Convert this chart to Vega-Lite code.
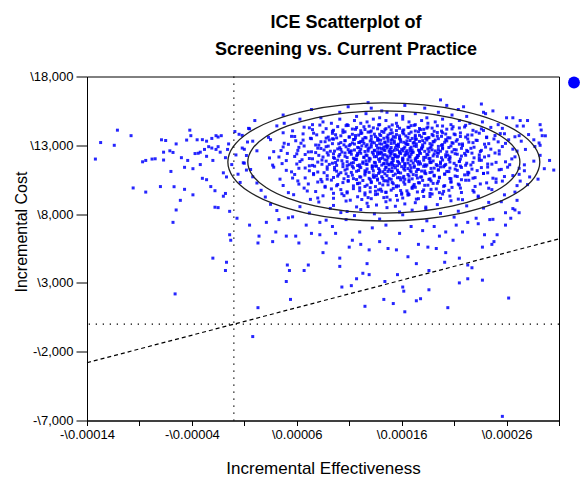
{
"$schema":"https://vega.github.io/schema/vega-lite/v6.json",
"width":472,"height":344,
"autosize":{"type":"none"},
"padding":{"left":87,"top":76.5,"right":23,"bottom":58.5},
"background":"white",
"title":{"text":["ICE Scatterplot of","Screening vs. Current Practice"],"anchor":"middle","fontSize":18,"fontWeight":"bold","font":"Liberation Sans","color":"#000","lineHeight":27,"dx":23,"offset":12},
"config":{"view":{"stroke":"#000","strokeWidth":1},"font":"Liberation Sans",
"axis":{"grid":false,"domainColor":"#000","labelFont":"Liberation Sans","labelFontSize":13,"labelColor":"#000","tickColor":"#000","titleFont":"Liberation Sans","titleFontWeight":"normal","titleColor":"#000","labelFlush":false,"labelOverlap":false}},
"data":{"values":[
{"e":0.000128,"c":16100},{"e":0.000197,"c":16300},{"e":0.000236,"c":16000},
{"e":0.000074,"c":15600},{"e":0.000109,"c":15800},{"e":0.000141,"c":15500},{"e":0.000163,"c":15900},{"e":0.000182,"c":15700},{"e":0.000214,"c":15600},{"e":0.000247,"c":15500},{"e":0.000131,"c":15700},
{"e":0.000047,"c":15200},{"e":0.000083,"c":15000},{"e":0.000101,"c":15400},{"e":0.000117,"c":15100},{"e":0.000126,"c":15300},{"e":0.000139,"c":15000},{"e":0.000146,"c":15400},{"e":0.000155,"c":15200},{"e":0.000161,"c":15100},{"e":0.000173,"c":15300},{"e":0.000184,"c":15000},{"e":0.000195,"c":15400},{"e":0.000208,"c":15200},{"e":0.000222,"c":15100},{"e":0.000240,"c":15300},{"e":0.000266,"c":15000},
{"e":0.000020,"c":14800},{"e":0.000048,"c":14600},{"e":0.000063,"c":14900},{"e":0.000075,"c":14500},{"e":0.000085,"c":14700},{"e":0.000093,"c":14600},{"e":0.000101,"c":14900},{"e":0.000108,"c":14500},{"e":0.000115,"c":14800},{"e":0.000121,"c":14600},{"e":0.000127,"c":14700},{"e":0.000133,"c":14900},{"e":0.000139,"c":14500},{"e":0.000145,"c":14800},{"e":0.000155,"c":14600},{"e":0.000161,"c":14900},{"e":0.000167,"c":14700},{"e":0.000173,"c":14500},{"e":0.000179,"c":14800},{"e":0.000185,"c":14600},{"e":0.000192,"c":14700},{"e":0.000199,"c":14900},{"e":0.000207,"c":14500},{"e":0.000215,"c":14800},{"e":0.000225,"c":14600},{"e":0.000237,"c":14700},{"e":0.000252,"c":14500},{"e":0.000280,"c":14800},
{"e":0.000014,"c":14230},{"e":0.000041,"c":14410},{"e":0.000056,"c":14050},{"e":0.000067,"c":14320},{"e":0.000075,"c":14140},{"e":0.000082,"c":14470},{"e":0.000088,"c":14210},{"e":0.000094,"c":14020},{"e":0.000099,"c":14360},{"e":0.000104,"c":14110},{"e":0.000109,"c":14440},{"e":0.000113,"c":14180},{"e":0.000117,"c":14290},{"e":0.000121,"c":14060},{"e":0.000125,"c":14150},{"e":0.000129,"c":14390},{"e":0.000133,"c":14270},{"e":0.000137,"c":14200},{"e":0.000141,"c":14010},{"e":0.000144,"c":14130},{"e":0.000148,"c":14340},{"e":0.000151,"c":14480},{"e":0.000155,"c":14070},{"e":0.000158,"c":14240},{"e":0.000162,"c":14120},{"e":0.000166,"c":14310},{"e":0.000169,"c":14430},{"e":0.000173,"c":14040},{"e":0.000177,"c":14220},{"e":0.000181,"c":14160},{"e":0.000185,"c":14330},{"e":0.000189,"c":14250},{"e":0.000194,"c":14420},{"e":0.000198,"c":14030},{"e":0.000203,"c":14170},{"e":0.000209,"c":14350},{"e":0.000215,"c":14260},{"e":0.000221,"c":14450},{"e":0.000228,"c":14090},{"e":0.000236,"c":14190},{"e":0.000245,"c":14300},{"e":0.000256,"c":14230},{"e":0.000270,"c":14400},{"e":0.000293,"c":14110},
{"e":0.000008,"c":13720},{"e":0.000033,"c":13580},{"e":0.000047,"c":13910},{"e":0.000058,"c":13640},{"e":0.000066,"c":13830},{"e":0.000073,"c":13510},{"e":0.000079,"c":13760},{"e":0.000085,"c":13950},{"e":0.000090,"c":13600},{"e":0.000094,"c":13870},{"e":0.000098,"c":13540},{"e":0.000102,"c":13690},{"e":0.000106,"c":13980},{"e":0.000110,"c":13620},{"e":0.000113,"c":13800},{"e":0.000116,"c":13530},{"e":0.000119,"c":13740},{"e":0.000122,"c":13890},{"e":0.000125,"c":13570},{"e":0.000128,"c":13960},{"e":0.000131,"c":13660},{"e":0.000134,"c":13810},{"e":0.000137,"c":13520},{"e":0.000140,"c":13710},{"e":0.000143,"c":13940},{"e":0.000146,"c":13590},{"e":0.000149,"c":13850},{"e":0.000152,"c":13630},{"e":0.000155,"c":13780},{"e":0.000158,"c":13550},{"e":0.000161,"c":13920},{"e":0.000164,"c":13680},{"e":0.000167,"c":13840},{"e":0.000170,"c":13500},{"e":0.000173,"c":13730},{"e":0.000176,"c":13990},{"e":0.000179,"c":13610},{"e":0.000182,"c":13860},{"e":0.000186,"c":13560},{"e":0.000190,"c":13700},{"e":0.000194,"c":13930},{"e":0.000198,"c":13650},{"e":0.000202,"c":13820},{"e":0.000206,"c":13540},{"e":0.000211,"c":13770},{"e":0.000216,"c":13900},{"e":0.000221,"c":13600},{"e":0.000227,"c":13750},{"e":0.000234,"c":13880},{"e":0.000241,"c":13560},{"e":0.000249,"c":13710},{"e":0.000258,"c":13840},{"e":0.000268,"c":13620},{"e":0.000281,"c":13780},{"e":0.000297,"c":13690},
{"e":0.000013,"c":13240},{"e":0.000035,"c":13410},{"e":0.000052,"c":13070},{"e":0.000059,"c":13330},{"e":0.000064,"c":13150},{"e":0.000074,"c":13480},{"e":0.000081,"c":13010},{"e":0.000083,"c":13260},{"e":0.000091,"c":13390},{"e":0.000094,"c":13120},{"e":0.000095,"c":13450},{"e":0.000102,"c":13200},{"e":0.000105,"c":13030},{"e":0.000106,"c":13350},{"e":0.000113,"c":13170},{"e":0.000114,"c":13420},{"e":0.000115,"c":13090},{"e":0.000121,"c":13280},{"e":0.000123,"c":13460},{"e":0.000124,"c":13140},{"e":0.000130,"c":13310},{"e":0.000131,"c":13050},{"e":0.000132,"c":13230},{"e":0.000138,"c":13400},{"e":0.000139,"c":13110},{"e":0.000140,"c":13370},{"e":0.000144,"c":13190},{"e":0.000146,"c":13020},{"e":0.000147,"c":13290},{"e":0.000151,"c":13440},{"e":0.000153,"c":13160},{"e":0.000150,"c":13360},{"e":0.000157,"c":13080},{"e":0.000159,"c":13250},{"e":0.000158,"c":13470},{"e":0.000164,"c":13130},{"e":0.000165,"c":13320},{"e":0.000166,"c":13060},{"e":0.000172,"c":13210},{"e":0.000173,"c":13430},{"e":0.000174,"c":13100},{"e":0.000180,"c":13340},{"e":0.000182,"c":13180},{"e":0.000183,"c":13490},{"e":0.000189,"c":13040},{"e":0.000190,"c":13270},{"e":0.000192,"c":13380},{"e":0.000198,"c":13000},{"e":0.000201,"c":13220},{"e":0.000202,"c":13410},{"e":0.000209,"c":13150},{"e":0.000212,"c":13300},{"e":0.000215,"c":13080},{"e":0.000223,"c":13460},{"e":0.000228,"c":13190},{"e":0.000232,"c":13350},{"e":0.000243,"c":13120},{"e":0.000252,"c":13250},{"e":0.000262,"c":13400},{"e":0.000291,"c":13170},
{"e":0.000010,"c":12710},{"e":0.000038,"c":12540},{"e":0.000047,"c":12880},{"e":0.000061,"c":12630},{"e":0.000067,"c":12950},{"e":0.000071,"c":12520},{"e":0.000080,"c":12790},{"e":0.000086,"c":12660},{"e":0.000088,"c":12900},{"e":0.000092,"c":12570},{"e":0.000099,"c":12740},{"e":0.000101,"c":12830},{"e":0.000103,"c":12510},{"e":0.000109,"c":12690},{"e":0.000110,"c":12970},{"e":0.000112,"c":12600},{"e":0.000118,"c":12850},{"e":0.000120,"c":12550},{"e":0.000121,"c":12720},{"e":0.000126,"c":12930},{"e":0.000128,"c":12580},{"e":0.000129,"c":12810},{"e":0.000134,"c":12640},{"e":0.000136,"c":12990},{"e":0.000137,"c":12530},{"e":0.000141,"c":12760},{"e":0.000143,"c":12870},{"e":0.000144,"c":12620},{"e":0.000149,"c":12700},{"e":0.000147,"c":12940},{"e":0.000151,"c":12560},{"e":0.000154,"c":12820},{"e":0.000156,"c":12680},{"e":0.000157,"c":12910},{"e":0.000161,"c":12590},{"e":0.000162,"c":12770},{"e":0.000164,"c":12500},{"e":0.000169,"c":12860},{"e":0.000170,"c":12650},{"e":0.000172,"c":12960},{"e":0.000177,"c":12610},{"e":0.000179,"c":12730},{"e":0.000180,"c":12890},{"e":0.000186,"c":12540},{"e":0.000187,"c":12800},{"e":0.000189,"c":12670},{"e":0.000195,"c":12920},{"e":0.000197,"c":12570},{"e":0.000199,"c":12750},{"e":0.000205,"c":12840},{"e":0.000208,"c":12520},{"e":0.000210,"c":12690},{"e":0.000218,"c":12980},{"e":0.000222,"c":12630},{"e":0.000226,"c":12780},{"e":0.000235,"c":12550},{"e":0.000240,"c":12870},{"e":0.000253,"c":12600},{"e":0.000266,"c":12720},{"e":0.000287,"c":12910},{"e":0.000146,"c":12810},{"e":0.000168,"c":12580},
{"e":0.000012,"c":12260},{"e":0.000034,"c":12080},{"e":0.000051,"c":12410},{"e":0.000058,"c":12190},{"e":0.000068,"c":12330},{"e":0.000075,"c":12020},{"e":0.000078,"c":12470},{"e":0.000085,"c":12150},{"e":0.000090,"c":12290},{"e":0.000095,"c":12380},{"e":0.000096,"c":12050},{"e":0.000100,"c":12210},{"e":0.000106,"c":12440},{"e":0.000108,"c":12110},{"e":0.000112,"c":12350},{"e":0.000115,"c":12000},{"e":0.000117,"c":12240},{"e":0.000118,"c":12420},{"e":0.000124,"c":12130},{"e":0.000126,"c":12300},{"e":0.000129,"c":12060},{"e":0.000132,"c":12490},{"e":0.000134,"c":12170},{"e":0.000137,"c":12360},{"e":0.000140,"c":12040},{"e":0.000142,"c":12280},{"e":0.000141,"c":12450},{"e":0.000147,"c":12100},{"e":0.000149,"c":12230},{"e":0.000150,"c":12390},{"e":0.000152,"c":12070},{"e":0.000153,"c":12320},{"e":0.000154,"c":12180},{"e":0.000158,"c":12460},{"e":0.000161,"c":12010},{"e":0.000163,"c":12270},{"e":0.000166,"c":12400},{"e":0.000168,"c":12140},{"e":0.000169,"c":12340},{"e":0.000174,"c":12090},{"e":0.000176,"c":12250},{"e":0.000177,"c":12480},{"e":0.000183,"c":12120},{"e":0.000185,"c":12310},{"e":0.000186,"c":12030},{"e":0.000191,"c":12370},{"e":0.000194,"c":12200},{"e":0.000195,"c":12430},{"e":0.000202,"c":12160},{"e":0.000204,"c":12280},{"e":0.000206,"c":12050},{"e":0.000213,"c":12350},{"e":0.000217,"c":12220},{"e":0.000220,"c":12410},{"e":0.000229,"c":12090},{"e":0.000234,"c":12300},{"e":0.000239,"c":12150},{"e":0.000249,"c":12440},{"e":0.000265,"c":12010},{"e":0.000292,"c":12270},{"e":0.000139,"c":12380},{"e":0.000175,"c":12120},
{"e":0.000009,"c":11730},{"e":0.000037,"c":11560},{"e":0.000050,"c":11890},{"e":0.000060,"c":11640},{"e":0.000065,"c":11950},{"e":0.000072,"c":11510},{"e":0.000080,"c":11780},{"e":0.000084,"c":11620},{"e":0.000088,"c":11850},{"e":0.000094,"c":11700},{"e":0.000098,"c":11540},{"e":0.000099,"c":11920},{"e":0.000104,"c":11660},{"e":0.000108,"c":11810},{"e":0.000110,"c":11590},{"e":0.000114,"c":11740},{"e":0.000117,"c":11980},{"e":0.000118,"c":11530},{"e":0.000123,"c":11690},{"e":0.000126,"c":11870},{"e":0.000127,"c":11610},{"e":0.000134,"c":11760},{"e":0.000135,"c":11500},{"e":0.000139,"c":11830},{"e":0.000143,"c":11650},{"e":0.000144,"c":11940},{"e":0.000148,"c":11570},{"e":0.000150,"c":11720},{"e":0.000152,"c":11880},{"e":0.000151,"c":11600},{"e":0.000157,"c":11770},{"e":0.000156,"c":11520},{"e":0.000161,"c":11840},{"e":0.000163,"c":11680},{"e":0.000166,"c":11960},{"e":0.000168,"c":11550},{"e":0.000171,"c":11710},{"e":0.000173,"c":11900},{"e":0.000176,"c":11630},{"e":0.000177,"c":11800},{"e":0.000182,"c":11580},{"e":0.000188,"c":11750},{"e":0.000187,"c":11860},{"e":0.000194,"c":11520},{"e":0.000197,"c":11670},{"e":0.000199,"c":11930},{"e":0.000202,"c":11610},{"e":0.000206,"c":11790},{"e":0.000212,"c":11540},{"e":0.000215,"c":11820},{"e":0.000222,"c":11700},{"e":0.000226,"c":11570},{"e":0.000234,"c":11910},{"e":0.000242,"c":11640},{"e":0.000250,"c":11760},{"e":0.000263,"c":11590},{"e":0.000286,"c":11850},{"e":0.000146,"c":11680},
{"e":0.000016,"c":11240},{"e":0.000038,"c":11410},{"e":0.000055,"c":11070},{"e":0.000062,"c":11330},{"e":0.000072,"c":11150},{"e":0.000077,"c":11480},{"e":0.000086,"c":11010},{"e":0.000089,"c":11260},{"e":0.000096,"c":11390},{"e":0.000098,"c":11120},{"e":0.000104,"c":11450},{"e":0.000106,"c":11200},{"e":0.000112,"c":11030},{"e":0.000114,"c":11350},{"e":0.000119,"c":11170},{"e":0.000120,"c":11420},{"e":0.000126,"c":11090},{"e":0.000127,"c":11280},{"e":0.000132,"c":11460},{"e":0.000133,"c":11140},{"e":0.000138,"c":11310},{"e":0.000139,"c":11050},{"e":0.000144,"c":11230},{"e":0.000145,"c":11400},{"e":0.000150,"c":11110},{"e":0.000151,"c":11370},{"e":0.000156,"c":11190},{"e":0.000157,"c":11020},{"e":0.000162,"c":11290},{"e":0.000163,"c":11440},{"e":0.000168,"c":11160},{"e":0.000169,"c":11360},{"e":0.000174,"c":11080},{"e":0.000175,"c":11250},{"e":0.000181,"c":11470},{"e":0.000182,"c":11130},{"e":0.000188,"c":11320},{"e":0.000189,"c":11060},{"e":0.000195,"c":11210},{"e":0.000197,"c":11430},{"e":0.000203,"c":11100},{"e":0.000206,"c":11340},{"e":0.000213,"c":11180},{"e":0.000216,"c":11490},{"e":0.000223,"c":11040},{"e":0.000227,"c":11270},{"e":0.000236,"c":11380},{"e":0.000242,"c":11000},{"e":0.000253,"c":11220},{"e":0.000261,"c":11410},{"e":0.000277,"c":11150},{"e":0.000296,"c":11300},
{"e":0.000018,"c":10710},{"e":0.000044,"c":10540},{"e":0.000058,"c":10880},{"e":0.000068,"c":10630},{"e":0.000076,"c":10950},{"e":0.000083,"c":10520},{"e":0.000089,"c":10790},{"e":0.000095,"c":10660},{"e":0.000100,"c":10900},{"e":0.000105,"c":10570},{"e":0.000109,"c":10740},{"e":0.000113,"c":10830},{"e":0.000117,"c":10510},{"e":0.000121,"c":10690},{"e":0.000125,"c":10970},{"e":0.000129,"c":10600},{"e":0.000133,"c":10850},{"e":0.000137,"c":10550},{"e":0.000141,"c":10720},{"e":0.000144,"c":10930},{"e":0.000148,"c":10580},{"e":0.000152,"c":10810},{"e":0.000156,"c":10640},{"e":0.000159,"c":10990},{"e":0.000163,"c":10530},{"e":0.000167,"c":10760},{"e":0.000171,"c":10870},{"e":0.000175,"c":10620},{"e":0.000179,"c":10700},{"e":0.000183,"c":10940},{"e":0.000187,"c":10560},{"e":0.000191,"c":10820},{"e":0.000196,"c":10680},{"e":0.000201,"c":10910},{"e":0.000206,"c":10590},{"e":0.000211,"c":10770},{"e":0.000217,"c":10500},{"e":0.000223,"c":10860},{"e":0.000230,"c":10650},{"e":0.000238,"c":10960},{"e":0.000247,"c":10610},{"e":0.000258,"c":10730},{"e":0.000272,"c":10890},{"e":0.000290,"c":10540},{"e":0.000136,"c":10800},
{"e":0.000022,"c":10260},{"e":0.000047,"c":10080},{"e":0.000061,"c":10410},{"e":0.000071,"c":10190},{"e":0.000080,"c":10330},{"e":0.000087,"c":10020},{"e":0.000093,"c":10470},{"e":0.000099,"c":10150},{"e":0.000104,"c":10290},{"e":0.000109,"c":10380},{"e":0.000114,"c":10050},{"e":0.000118,"c":10210},{"e":0.000123,"c":10440},{"e":0.000127,"c":10110},{"e":0.000131,"c":10350},{"e":0.000135,"c":10000},{"e":0.000139,"c":10240},{"e":0.000143,"c":10420},{"e":0.000147,"c":10130},{"e":0.000151,"c":10300},{"e":0.000155,"c":10060},{"e":0.000159,"c":10490},{"e":0.000163,"c":10170},{"e":0.000167,"c":10360},{"e":0.000171,"c":10040},{"e":0.000176,"c":10280},{"e":0.000180,"c":10450},{"e":0.000185,"c":10100},{"e":0.000190,"c":10230},{"e":0.000195,"c":10390},{"e":0.000201,"c":10070},{"e":0.000207,"c":10320},{"e":0.000214,"c":10180},{"e":0.000221,"c":10460},{"e":0.000230,"c":10010},{"e":0.000241,"c":10270},{"e":0.000256,"c":10400},{"e":0.000280,"c":10140},
{"e":0.000026,"c":9730},{"e":0.000052,"c":9560},{"e":0.000067,"c":9890},{"e":0.000078,"c":9640},{"e":0.000087,"c":9950},{"e":0.000095,"c":9510},{"e":0.000102,"c":9780},{"e":0.000108,"c":9620},{"e":0.000114,"c":9850},{"e":0.000120,"c":9700},{"e":0.000125,"c":9540},{"e":0.000130,"c":9920},{"e":0.000135,"c":9660},{"e":0.000140,"c":9810},{"e":0.000145,"c":9590},{"e":0.000150,"c":9740},{"e":0.000155,"c":9980},{"e":0.000160,"c":9530},{"e":0.000165,"c":9690},{"e":0.000170,"c":9870},{"e":0.000175,"c":9610},{"e":0.000181,"c":9760},{"e":0.000187,"c":9500},{"e":0.000193,"c":9830},{"e":0.000200,"c":9650},{"e":0.000208,"c":9940},{"e":0.000217,"c":9570},{"e":0.000228,"c":9720},{"e":0.000243,"c":9880},{"e":0.000268,"c":9600},
{"e":0.000030,"c":9240},{"e":0.000057,"c":9410},{"e":0.000073,"c":9070},{"e":0.000085,"c":9330},{"e":0.000095,"c":9150},{"e":0.000103,"c":9480},{"e":0.000111,"c":9010},{"e":0.000118,"c":9260},{"e":0.000125,"c":9390},{"e":0.000131,"c":9120},{"e":0.000137,"c":9450},{"e":0.000143,"c":9200},{"e":0.000149,"c":9030},{"e":0.000155,"c":9350},{"e":0.000161,"c":9170},{"e":0.000167,"c":9420},{"e":0.000174,"c":9090},{"e":0.000181,"c":9280},{"e":0.000189,"c":9460},{"e":0.000197,"c":9140},{"e":0.000206,"c":9310},{"e":0.000218,"c":9050},{"e":0.000233,"c":9230},{"e":0.000258,"c":9400},
{"e":0.000035,"c":8710},{"e":0.000063,"c":8540},{"e":0.000081,"c":8880},{"e":0.000095,"c":8630},{"e":0.000107,"c":8950},{"e":0.000117,"c":8520},{"e":0.000127,"c":8790},{"e":0.000136,"c":8660},{"e":0.000145,"c":8900},{"e":0.000154,"c":8570},{"e":0.000163,"c":8740},{"e":0.000173,"c":8830},{"e":0.000183,"c":8510},{"e":0.000194,"c":8690},{"e":0.000207,"c":8970},{"e":0.000222,"c":8600},{"e":0.000243,"c":8850},{"e":0.000128,"c":8550},
{"e":0.000041,"c":8260},{"e":0.000072,"c":8080},{"e":0.000092,"c":8410},{"e":0.000108,"c":8190},{"e":0.000121,"c":8330},{"e":0.000134,"c":8020},{"e":0.000146,"c":8470},{"e":0.000158,"c":8150},{"e":0.000170,"c":8290},{"e":0.000183,"c":8380},{"e":0.000197,"c":8050},{"e":0.000214,"c":8210},{"e":0.000238,"c":8440},{"e":0.000102,"c":8110},
{"e":0.000052,"c":7730},{"e":0.000088,"c":7560},{"e":0.000115,"c":7890},{"e":0.000139,"c":7640},{"e":0.000161,"c":7950},{"e":0.000184,"c":7510},{"e":0.000210,"c":7780},{"e":0.000247,"c":7620},
{"e":0.000072,"c":14270},{"e":0.000095,"c":14090},{"e":0.000107,"c":14430},{"e":0.000116,"c":14160},{"e":0.000124,"c":14350},{"e":0.000131,"c":14040},{"e":0.000138,"c":14480},{"e":0.000145,"c":14210},{"e":0.000150,"c":14120},{"e":0.000156,"c":14380},{"e":0.000161,"c":14060},{"e":0.000167,"c":14300},{"e":0.000172,"c":14450},{"e":0.000178,"c":14140},{"e":0.000184,"c":14250},{"e":0.000191,"c":14020},{"e":0.000199,"c":14400},{"e":0.000208,"c":14190},{"e":0.000220,"c":14330},{"e":0.000238,"c":14080},
{"e":0.000055,"c":13650},{"e":0.000076,"c":13880},{"e":0.000088,"c":13520},{"e":0.000097,"c":13770},{"e":0.000104,"c":13940},{"e":0.000110,"c":13590},{"e":0.000116,"c":13710},{"e":0.000121,"c":13860},{"e":0.000126,"c":13540},{"e":0.000130,"c":13970},{"e":0.000135,"c":13630},{"e":0.000139,"c":13800},{"e":0.000143,"c":13510},{"e":0.000147,"c":13740},{"e":0.000151,"c":13900},{"e":0.000154,"c":13580},{"e":0.000158,"c":13690},{"e":0.000162,"c":13830},{"e":0.000166,"c":13560},{"e":0.000169,"c":13960},{"e":0.000173,"c":13610},{"e":0.000177,"c":13720},{"e":0.000181,"c":13870},{"e":0.000185,"c":13530},{"e":0.000189,"c":13790},{"e":0.000194,"c":13670},{"e":0.000199,"c":13910},{"e":0.000204,"c":13550},{"e":0.000210,"c":13820},{"e":0.000216,"c":13640},{"e":0.000223,"c":13750},{"e":0.000231,"c":13980},{"e":0.000241,"c":13600},{"e":0.000254,"c":13850},{"e":0.000272,"c":13700},
{"e":0.000048,"c":13150},{"e":0.000066,"c":13380},{"e":0.000078,"c":13020},{"e":0.000087,"c":13260},{"e":0.000094,"c":13470},{"e":0.000100,"c":13110},{"e":0.000106,"c":13330},{"e":0.000111,"c":13060},{"e":0.000115,"c":13420},{"e":0.000119,"c":13200},{"e":0.000123,"c":13290},{"e":0.000127,"c":13040},{"e":0.000131,"c":13450},{"e":0.000134,"c":13180},{"e":0.000137,"c":13360},{"e":0.000141,"c":13090},{"e":0.000144,"c":13240},{"e":0.000147,"c":13490},{"e":0.000150,"c":13130},{"e":0.000153,"c":13310},{"e":0.000156,"c":13010},{"e":0.000159,"c":13400},{"e":0.000162,"c":13220},{"e":0.000165,"c":13070},{"e":0.000168,"c":13350},{"e":0.000171,"c":13170},{"e":0.000174,"c":13440},{"e":0.000177,"c":13280},{"e":0.000180,"c":13030},{"e":0.000184,"c":13390},{"e":0.000187,"c":13120},{"e":0.000191,"c":13260},{"e":0.000195,"c":13480},{"e":0.000199,"c":13050},{"e":0.000203,"c":13320},{"e":0.000208,"c":13190},{"e":0.000213,"c":13410},{"e":0.000218,"c":13100},{"e":0.000224,"c":13230},{"e":0.000231,"c":13370},{"e":0.000239,"c":13080},{"e":0.000248,"c":13460},{"e":0.000259,"c":13140},{"e":0.000274,"c":13300},{"e":0.000120,"c":13210},
{"e":0.000045,"c":12620},{"e":0.000062,"c":12850},{"e":0.000074,"c":12530},{"e":0.000083,"c":12770},{"e":0.000090,"c":12940},{"e":0.000096,"c":12580},{"e":0.000102,"c":12700},{"e":0.000107,"c":12890},{"e":0.000111,"c":12510},{"e":0.000115,"c":12660},{"e":0.000119,"c":12820},{"e":0.000122,"c":12960},{"e":0.000125,"c":12550},{"e":0.000128,"c":12730},{"e":0.000131,"c":12880},{"e":0.000134,"c":12600},{"e":0.000137,"c":12790},{"e":0.000140,"c":12520},{"e":0.000143,"c":12680},{"e":0.000145,"c":12930},{"e":0.000148,"c":12570},{"e":0.000150,"c":12840},{"e":0.000153,"c":12640},{"e":0.000155,"c":12990},{"e":0.000158,"c":12540},{"e":0.000160,"c":12710},{"e":0.000163,"c":12870},{"e":0.000165,"c":12610},{"e":0.000168,"c":12760},{"e":0.000171,"c":12500},{"e":0.000174,"c":12920},{"e":0.000176,"c":12650},{"e":0.000179,"c":12810},{"e":0.000182,"c":12560},{"e":0.000185,"c":12740},{"e":0.000188,"c":12900},{"e":0.000192,"c":12590},{"e":0.000195,"c":12690},{"e":0.000199,"c":12830},{"e":0.000203,"c":12520},{"e":0.000207,"c":12950},{"e":0.000212,"c":12670},{"e":0.000217,"c":12780},{"e":0.000223,"c":12550},{"e":0.000229,"c":12860},{"e":0.000236,"c":12630},{"e":0.000245,"c":12720},{"e":0.000256,"c":12910},{"e":0.000270,"c":12580},{"e":0.000139,"c":12800},
{"e":0.000043,"c":12150},{"e":0.000060,"c":12380},{"e":0.000072,"c":12040},{"e":0.000081,"c":12270},{"e":0.000089,"c":12460},{"e":0.000095,"c":12110},{"e":0.000101,"c":12330},{"e":0.000106,"c":12200},{"e":0.000110,"c":12490},{"e":0.000114,"c":12060},{"e":0.000118,"c":12300},{"e":0.000121,"c":12420},{"e":0.000124,"c":12130},{"e":0.000127,"c":12250},{"e":0.000130,"c":12010},{"e":0.000133,"c":12360},{"e":0.000136,"c":12180},{"e":0.000139,"c":12440},{"e":0.000142,"c":12080},{"e":0.000144,"c":12320},{"e":0.000146,"c":12220},{"e":0.000149,"c":12470},{"e":0.000151,"c":12030},{"e":0.000154,"c":12290},{"e":0.000156,"c":12140},{"e":0.000159,"c":12400},{"e":0.000161,"c":12070},{"e":0.000164,"c":12350},{"e":0.000167,"c":12190},{"e":0.000170,"c":12480},{"e":0.000173,"c":12020},{"e":0.000175,"c":12260},{"e":0.000178,"c":12410},{"e":0.000181,"c":12120},{"e":0.000184,"c":12340},{"e":0.000187,"c":12050},{"e":0.000190,"c":12230},{"e":0.000194,"c":12450},{"e":0.000198,"c":12100},{"e":0.000202,"c":12310},{"e":0.000206,"c":12170},{"e":0.000211,"c":12390},{"e":0.000216,"c":12000},{"e":0.000221,"c":12280},{"e":0.000227,"c":12430},{"e":0.000234,"c":12090},{"e":0.000243,"c":12240},{"e":0.000253,"c":12370},{"e":0.000268,"c":12160},{"e":0.000157,"c":12210},
{"e":0.000046,"c":11670},{"e":0.000063,"c":11820},{"e":0.000075,"c":11540},{"e":0.000084,"c":11930},{"e":0.000091,"c":11610},{"e":0.000097,"c":11750},{"e":0.000103,"c":11880},{"e":0.000108,"c":11520},{"e":0.000112,"c":11700},{"e":0.000116,"c":11960},{"e":0.000120,"c":11580},{"e":0.000123,"c":11790},{"e":0.000126,"c":11640},{"e":0.000129,"c":11850},{"e":0.000132,"c":11510},{"e":0.000135,"c":11730},{"e":0.000138,"c":11990},{"e":0.000141,"c":11560},{"e":0.000143,"c":11680},{"e":0.000146,"c":11900},{"e":0.000148,"c":11620},{"e":0.000151,"c":11770},{"e":0.000153,"c":11530},{"e":0.000156,"c":11840},{"e":0.000158,"c":11660},{"e":0.000161,"c":11950},{"e":0.000163,"c":11590},{"e":0.000166,"c":11710},{"e":0.000169,"c":11870},{"e":0.000172,"c":11500},{"e":0.000175,"c":11810},{"e":0.000178,"c":11650},{"e":0.000181,"c":11920},{"e":0.000184,"c":11570},{"e":0.000187,"c":11740},{"e":0.000190,"c":11860},{"e":0.000193,"c":11600},{"e":0.000197,"c":11780},{"e":0.000201,"c":11530},{"e":0.000205,"c":11970},{"e":0.000210,"c":11690},{"e":0.000215,"c":11830},{"e":0.000221,"c":11550},{"e":0.000228,"c":11760},{"e":0.000236,"c":11910},{"e":0.000246,"c":11630},{"e":0.000259,"c":11800},{"e":0.000277,"c":11580},
{"e":0.000050,"c":11180},{"e":0.000068,"c":11350},{"e":0.000080,"c":11060},{"e":0.000089,"c":11430},{"e":0.000096,"c":11220},{"e":0.000102,"c":11010},{"e":0.000108,"c":11290},{"e":0.000113,"c":11470},{"e":0.000117,"c":11110},{"e":0.000121,"c":11380},{"e":0.000125,"c":11150},{"e":0.000129,"c":11030},{"e":0.000132,"c":11320},{"e":0.000136,"c":11490},{"e":0.000139,"c":11200},{"e":0.000142,"c":11080},{"e":0.000145,"c":11410},{"e":0.000148,"c":11260},{"e":0.000151,"c":11120},{"e":0.000154,"c":11360},{"e":0.000157,"c":11040},{"e":0.000160,"c":11450},{"e":0.000163,"c":11190},{"e":0.000166,"c":11310},{"e":0.000169,"c":11070},{"e":0.000172,"c":11400},{"e":0.000176,"c":11240},{"e":0.000179,"c":11130},{"e":0.000183,"c":11480},{"e":0.000187,"c":11020},{"e":0.000191,"c":11340},{"e":0.000195,"c":11210},{"e":0.000200,"c":11440},{"e":0.000205,"c":11090},{"e":0.000211,"c":11270},{"e":0.000217,"c":11390},{"e":0.000224,"c":11000},{"e":0.000232,"c":11160},{"e":0.000242,"c":11420},{"e":0.000255,"c":11250},{"e":0.000272,"c":11330},{"e":0.000147,"c":11100},
{"e":0.000056,"c":10620},{"e":0.000076,"c":10870},{"e":0.000089,"c":10540},{"e":0.000099,"c":10760},{"e":0.000107,"c":10930},{"e":0.000114,"c":10580},{"e":0.000120,"c":10710},{"e":0.000125,"c":10840},{"e":0.000130,"c":10510},{"e":0.000134,"c":10680},{"e":0.000138,"c":10960},{"e":0.000142,"c":10600},{"e":0.000146,"c":10790},{"e":0.000150,"c":10530},{"e":0.000154,"c":10910},{"e":0.000158,"c":10650},{"e":0.000162,"c":10740},{"e":0.000166,"c":10880},{"e":0.000170,"c":10560},{"e":0.000174,"c":10820},{"e":0.000178,"c":10690},{"e":0.000182,"c":10990},{"e":0.000186,"c":10520},{"e":0.000191,"c":10770},{"e":0.000196,"c":10640},{"e":0.000201,"c":10900},{"e":0.000207,"c":10570},{"e":0.000213,"c":10730},{"e":0.000220,"c":10850},{"e":0.000228,"c":10610},{"e":0.000238,"c":10950},{"e":0.000250,"c":10550},{"e":0.000266,"c":10800},{"e":0.000133,"c":10700},{"e":0.000161,"c":10630},
{"e":0.000062,"c":10180},{"e":0.000084,"c":10350},{"e":0.000098,"c":10060},{"e":0.000109,"c":10440},{"e":0.000118,"c":10230},{"e":0.000125,"c":10010},{"e":0.000131,"c":10290},{"e":0.000137,"c":10470},{"e":0.000142,"c":10120},{"e":0.000147,"c":10380},{"e":0.000152,"c":10200},{"e":0.000157,"c":10040},{"e":0.000162,"c":10330},{"e":0.000167,"c":10490},{"e":0.000172,"c":10150},{"e":0.000177,"c":10270},{"e":0.000182,"c":10090},{"e":0.000188,"c":10410},{"e":0.000194,"c":10240},{"e":0.000200,"c":10020},{"e":0.000207,"c":10360},{"e":0.000215,"c":10110},{"e":0.000224,"c":10460},{"e":0.000235,"c":10190},{"e":0.000250,"c":10310},{"e":0.000270,"c":10070},{"e":0.000145,"c":10420},{"e":0.000120,"c":10250},
{"e":0.000070,"c":9680},{"e":0.000093,"c":9830},{"e":0.000108,"c":9540},{"e":0.000120,"c":9910},{"e":0.000130,"c":9620},{"e":0.000138,"c":9760},{"e":0.000145,"c":9580},{"e":0.000152,"c":9870},{"e":0.000159,"c":9710},{"e":0.000166,"c":9520},{"e":0.000173,"c":9950},{"e":0.000180,"c":9640},{"e":0.000188,"c":9800},{"e":0.000196,"c":9560},{"e":0.000205,"c":9730},{"e":0.000216,"c":9890},{"e":0.000229,"c":9600},{"e":0.000246,"c":9780},{"e":0.000141,"c":9660},{"e":0.000170,"c":9940},
{"e":0.000080,"c":9170},{"e":0.000105,"c":9340},{"e":0.000122,"c":9060},{"e":0.000135,"c":9420},{"e":0.000146,"c":9230},{"e":0.000156,"c":9010},{"e":0.000166,"c":9380},{"e":0.000176,"c":9120},{"e":0.000187,"c":9280},{"e":0.000199,"c":9460},{"e":0.000214,"c":9090},{"e":0.000233,"c":9310},{"e":0.000128,"c":9200},{"e":0.000160,"c":9440},
{"e":-0.000111,"c":14100},{"e":-0.000098,"c":13700},{"e":-0.000127,"c":13200},{"e":-0.000114,"c":13000},{"e":-0.000132,"c":12000},{"e":-0.000069,"c":13400},{"e":-0.000065,"c":13350},{"e":-0.000055,"c":13100},{"e":-0.000061,"c":12600},{"e":-0.000067,"c":12500},{"e":-0.000058,"c":12480},{"e":-0.000087,"c":11800},{"e":-0.000084,"c":11900},{"e":-0.000078,"c":12000},{"e":-0.000075,"c":12020},{"e":-0.000067,"c":11930},{"e":-0.000096,"c":9900},{"e":-0.000084,"c":9600},{"e":-0.000070,"c":10000},{"e":-0.000057,"c":9990},{"e":-0.000051,"c":9000},{"e":-0.000055,"c":8300},{"e":-0.000058,"c":7400},{"e":-0.000047,"c":9800},{"e":-0.000039,"c":9400},{"e":-0.000060,"c":11100},{"e":-0.000047,"c":11400},{"e":-0.000050,"c":12100},{"e":-0.000044,"c":11900},{"e":-0.000042,"c":14100},{"e":-0.000041,"c":13700},{"e":-0.000035,"c":13400},{"e":-0.000045,"c":13380},{"e":-0.000037,"c":12400},{"e":-0.000034,"c":12420},{"e":-0.000039,"c":11300},{"e":-0.000030,"c":13410},{"e":-0.000026,"c":13300},{"e":-0.000021,"c":13500},{"e":-0.000017,"c":13700},{"e":-0.000015,"c":13600},{"e":-0.000012,"c":13700},{"e":-0.000032,"c":11600},{"e":-0.000030,"c":10600},{"e":-0.000026,"c":10500},{"e":-0.000022,"c":10000},{"e":-0.000018,"c":9700},{"e":-0.000010,"c":9300},{"e":-0.000008,"c":9500},{"e":-0.000018,"c":8500},{"e":-0.000015,"c":8470},{"e":-0.000004,"c":8200},{"e":0.000003,"c":7700},{"e":-0.000004,"c":6500},{"e":-0.000003,"c":6100},{"e":-0.000020,"c":4800},{"e":-0.000007,"c":4500},{"e":-0.000008,"c":3900},{"e":-0.000056,"c":2200},{"e":-0.000032,"c":12500},{"e":-0.000026,"c":12200},{"e":-0.000021,"c":12800},{"e":-0.000017,"c":12700},{"e":-0.000013,"c":12500},{"e":-0.000015,"c":12900},{"e":-0.000024,"c":12900},{"e":-0.000028,"c":12700},{"e":-0.000020,"c":11900},{"e":-0.000010,"c":11000},{"e":-0.000007,"c":10700},
{"e":-0.000005,"c":13100},{"e":0.000002,"c":12300},{"e":0.000005,"c":13800},{"e":-0.000002,"c":11600},{"e":0.000008,"c":12800},{"e":0.000012,"c":11200},{"e":0.000015,"c":14200},{"e":0.000004,"c":10900},{"e":0.000018,"c":13300},{"e":-0.000008,"c":12100},{"e":0.000010,"c":11700},{"e":0.000022,"c":12600},{"e":0.000001,"c":14000},{"e":0.000006,"c":10300},{"e":-0.000006,"c":12700},
{"e":0.000018,"c":-900},{"e":0.000256,"c":-6700},{"e":0.000023,"c":1200},{"e":0.000051,"c":4300},{"e":0.000053,"c":3900},{"e":0.000050,"c":3100},{"e":0.000054,"c":1800},{"e":0.000067,"c":3900},{"e":0.000071,"c":4300},{"e":0.000085,"c":5200},{"e":0.000101,"c":4800},{"e":0.000103,"c":2700},{"e":0.000112,"c":2800},{"e":0.000117,"c":3300},{"e":0.000123,"c":3700},{"e":0.000129,"c":3600},{"e":0.000125,"c":1300},{"e":0.000143,"c":1800},{"e":0.000152,"c":1500},{"e":0.000163,"c":900},{"e":0.000162,"c":2400},{"e":0.000174,"c":1700},{"e":0.000178,"c":1850},{"e":0.000186,"c":2500},{"e":0.000204,"c":1200},{"e":0.000215,"c":3000},{"e":0.000223,"c":3300},{"e":0.000237,"c":3200},{"e":0.000262,"c":1900},{"e":0.000227,"c":4100},{"e":0.000156,"c":3600},{"e":0.000161,"c":2700},{"e":0.000144,"c":3100},{"e":0.000127,"c":4400},{"e":0.000101,"c":4200},{"e":0.000174,"c":4400},{"e":0.000186,"c":3900},{"e":0.000201,"c":4500},{"e":0.000215,"c":4800},{"e":0.000193,"c":5500},{"e":0.000202,"c":5200},{"e":0.000223,"c":4300},{"e":0.000237,"c":5600},{"e":0.000246,"c":5800},{"e":0.000248,"c":6000},{"e":0.000251,"c":6500},{"e":0.000264,"c":7700},{"e":0.000266,"c":8400},{"e":0.000272,"c":8100},{"e":0.000259,"c":7200},{"e":0.000239,"c":6500},{"e":0.000244,"c":7600},{"e":0.000233,"c":7300},{"e":0.000218,"c":6700},{"e":0.000209,"c":6100},{"e":0.000196,"c":6400},{"e":0.000185,"c":5600},{"e":0.000176,"c":5800},{"e":0.000166,"c":4900},{"e":0.000155,"c":5400},{"e":0.000147,"c":5500},{"e":0.000139,"c":6000},{"e":0.000129,"c":5400},{"e":0.000121,"c":5800},{"e":0.000113,"c":6100},{"e":0.000110,"c":5600},{"e":0.000097,"c":6600},{"e":0.000088,"c":5900},{"e":0.000082,"c":6500},{"e":0.000074,"c":6600},{"e":0.000062,"c":5900},{"e":0.000059,"c":6400},{"e":0.000050,"c":6400},{"e":0.000040,"c":6700},{"e":0.000037,"c":6000},{"e":0.000024,"c":6400},{"e":0.000023,"c":5900},{"e":0.000015,"c":7200},{"e":0.000031,"c":7400},{"e":0.000043,"c":7600},{"e":0.000056,"c":7800},{"e":0.000069,"c":7200},{"e":0.000082,"c":7400},{"e":0.000094,"c":7100},{"e":0.000107,"c":7600},{"e":0.000120,"c":6700},{"e":0.000132,"c":7000},{"e":0.000145,"c":7200},{"e":0.000158,"c":6600},{"e":0.000169,"c":7100},{"e":0.000180,"c":6800},{"e":0.000191,"c":7100},{"e":0.000202,"c":6700},{"e":0.000212,"c":7200},{"e":0.000223,"c":7400},{"e":0.000231,"c":7700},
{"e":0.000276,"c":14400},{"e":0.000294,"c":13700},{"e":0.000292,"c":14500},{"e":0.000301,"c":11900},{"e":0.000305,"c":11200},{"e":0.000286,"c":13400},{"e":0.000282,"c":10700},{"e":0.000273,"c":10400},{"e":0.000270,"c":9000},{"e":0.000255,"c":8900},{"e":0.000268,"c":8300},{"e":0.000259,"c":8100},{"e":0.000278,"c":12700},{"e":0.000292,"c":13000},{"e":0.000273,"c":14800},{"e":0.000260,"c":15000},{"e":0.000238,"c":15400},{"e":0.000219,"c":15800},{"e":0.000203,"c":15900}
]},
"layer":[
{"mark":{"type":"point","shape":"square","filled":true,"size":9,"opacity":0.85},
"encoding":{
"x":{"field":"e","type":"quantitative","title":"Incremental Effectiveness","scale":{"domain":[-0.00014,0.00031],"nice":false,"zero":false},
"axis":{"values":[-0.00014,-0.00009,-0.00004,0.00001,0.00006,0.00011,0.00016,0.00021,0.00026,0.00031],"labelExpr":"round(datum.index*9) % 2 == 0 ? (datum.value < 0 ? '-\\\\' : '\\\\') + format(abs(datum.value), '.5f') : ''","tickSize":5,"labelPadding":3,"titleFontSize":17,"titleX":236,"titleY":52.5,"titleBaseline":"alphabetic"}},
"y":{"field":"c","type":"quantitative","title":"Incremental Cost","scale":{"domain":[-7000,18000],"nice":false,"zero":false},
"axis":{"values":[-7000,-2000,3000,8000,13000,18000],"labelExpr":"(datum.value < 0 ? '-\\\\' : '\\\\') + format(abs(datum.value), ',')","tickSize":11,"labelPadding":3,"titleFontSize":16,"titleX":-61,"titleY":155,"titleBaseline":"alphabetic","titleAngle":-90}},
"color":{"datum":"ICE","type":"nominal","scale":{"range":["#0000ff"]},"legend":{"orient":"none","legendX":481,"legendY":0,"title":null,"labelExpr":"''","symbolType":"circle","symbolSize":140,"symbolOpacity":1,"symbolStrokeWidth":0,"padding":0}}}},
{"data":{"values":[
{"lev":"outer","k":0,"e":0.0002917,"c":11787},{"lev":"outer","k":1,"e":0.0002866,"c":12897},{"lev":"outer","k":2,"e":0.0002718,"c":13932},{"lev":"outer","k":3,"e":0.0002481,"c":14820},{"lev":"outer","k":4,"e":0.0002174,"c":15502},{"lev":"outer","k":5,"e":0.0001815,"c":15931},{"lev":"outer","k":6,"e":0.000143,"c":16077},{"lev":"outer","k":7,"e":0.0001045,"c":15931},{"lev":"outer","k":8,"e":0.0000687,"c":15502},{"lev":"outer","k":9,"e":0.0000379,"c":14820},{"lev":"outer","k":10,"e":0.0000142,"c":13932},{"lev":"outer","k":11,"e":-0.0000006,"c":12897},{"lev":"outer","k":12,"e":-0.0000057,"c":11787},{"lev":"outer","k":13,"e":-0.0000006,"c":10677},{"lev":"outer","k":14,"e":0.0000142,"c":9642},{"lev":"outer","k":15,"e":0.0000379,"c":8754},{"lev":"outer","k":16,"e":0.0000687,"c":8072},{"lev":"outer","k":17,"e":0.0001045,"c":7643},{"lev":"outer","k":18,"e":0.000143,"c":7497},{"lev":"outer","k":19,"e":0.0001815,"c":7643},{"lev":"outer","k":20,"e":0.0002174,"c":8072},{"lev":"outer","k":21,"e":0.0002481,"c":8754},{"lev":"outer","k":22,"e":0.0002718,"c":9642},{"lev":"outer","k":23,"e":0.0002866,"c":10677},
{"lev":"inner","k":0,"e":0.0002727,"c":11787},{"lev":"inner","k":1,"e":0.0002683,"c":12747},{"lev":"inner","k":2,"e":0.0002553,"c":13642},{"lev":"inner","k":3,"e":0.0002347,"c":14410},{"lev":"inner","k":4,"e":0.0002079,"c":15000},{"lev":"inner","k":5,"e":0.0001766,"c":15371},{"lev":"inner","k":6,"e":0.000143,"c":15497},{"lev":"inner","k":7,"e":0.0001094,"c":15371},{"lev":"inner","k":8,"e":0.0000782,"c":15000},{"lev":"inner","k":9,"e":0.0000513,"c":14410},{"lev":"inner","k":10,"e":0.0000307,"c":13642},{"lev":"inner","k":11,"e":0.0000177,"c":12747},{"lev":"inner","k":12,"e":0.0000133,"c":11787},{"lev":"inner","k":13,"e":0.0000177,"c":10827},{"lev":"inner","k":14,"e":0.0000307,"c":9932},{"lev":"inner","k":15,"e":0.0000513,"c":9164},{"lev":"inner","k":16,"e":0.0000782,"c":8574},{"lev":"inner","k":17,"e":0.0001094,"c":8203},{"lev":"inner","k":18,"e":0.000143,"c":8077},{"lev":"inner","k":19,"e":0.0001766,"c":8203},{"lev":"inner","k":20,"e":0.0002079,"c":8574},{"lev":"inner","k":21,"e":0.0002347,"c":9164},{"lev":"inner","k":22,"e":0.0002553,"c":9932},{"lev":"inner","k":23,"e":0.0002683,"c":10827}
]},
"mark":{"type":"line","interpolate":"cardinal-closed","color":"#222","strokeWidth":1.3},
"encoding":{"x":{"field":"e","type":"quantitative","title":"Incremental Effectiveness"},"y":{"field":"c","type":"quantitative","title":"Incremental Cost"},"detail":{"field":"lev"},"order":{"field":"k","type":"quantitative"}}},
{"data":{"values":[{"e":-0.00014,"c":-2800},{"e":0.00031,"c":6200}]},
"mark":{"type":"line","color":"#000","strokeWidth":1.2,"strokeDash":[4,3]},
"encoding":{"x":{"field":"e","type":"quantitative","title":"Incremental Effectiveness"},"y":{"field":"c","type":"quantitative","title":"Incremental Cost"}}},
{"data":{"values":[{}]},"mark":{"type":"rule","color":"#000","strokeWidth":1.3,"strokeDash":[1.3,5.7]},"encoding":{"x":{"datum":0,"type":"quantitative"}}},
{"data":{"values":[{}]},"mark":{"type":"rule","color":"#000","strokeWidth":1.3,"strokeDash":[1.3,5.7]},"encoding":{"y":{"datum":0,"type":"quantitative"}}}
]
}
